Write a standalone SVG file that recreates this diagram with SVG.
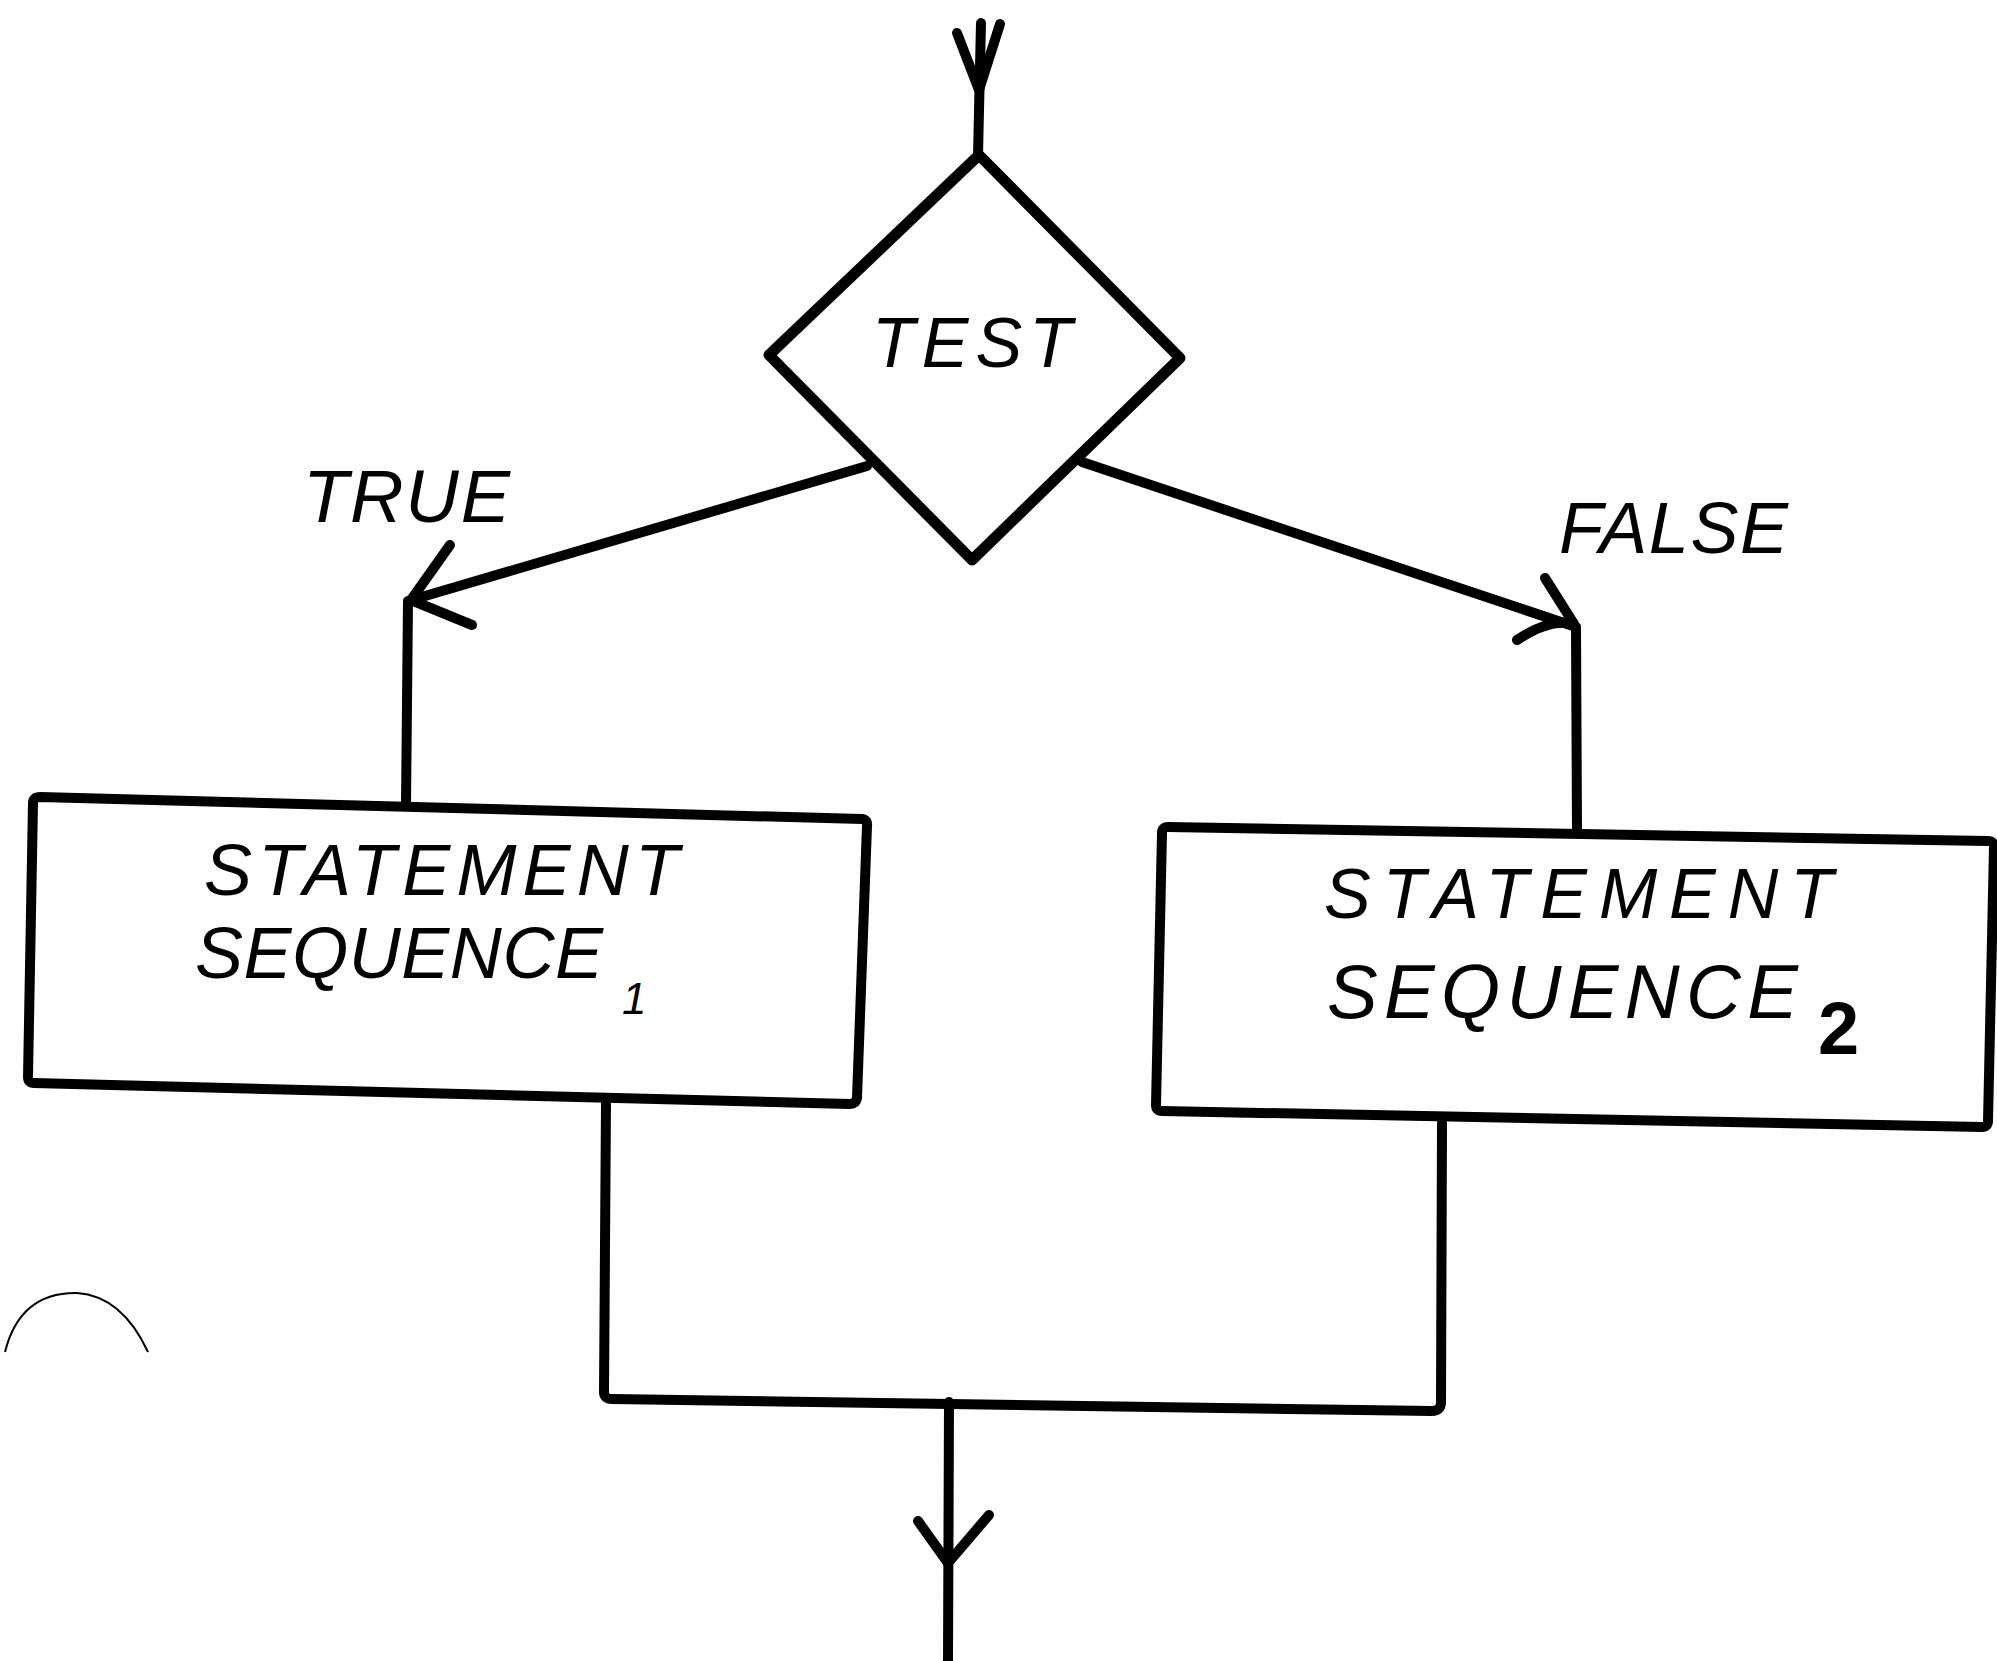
<svg xmlns="http://www.w3.org/2000/svg" width="1997" height="1661" viewBox="0 0 1997 1661">
<style>
.ln{fill:none;stroke:#000;stroke-width:10;stroke-linecap:round;stroke-linejoin:round}
.box{fill:#fff;stroke:#000;stroke-width:10;stroke-linejoin:round}
.dia{fill:#fff;stroke:#000;stroke-width:11;stroke-linejoin:round}
.t{font-family:"Liberation Sans",Arial,sans-serif;font-style:italic;fill:#000}
</style>
<rect width="1997" height="1661" fill="#fff"/>
<g id="connectors">
<path class="ln" d="M981,23 L978,155"/>
<path class="ln" d="M957,33 L979,90 L1000,24"/>
<path class="ln" d="M867,466 L408,601 L406,806"/>
<path class="ln" d="M450,545 L411,600 L472,625"/>
<path class="ln" d="M1082,462 L1576,627 L1577,833"/>
<path class="ln" d="M1545,578 L1574,624 Q1550,618 1517,640"/>
<path class="ln" d="M606,1102 L604,1392 Q604,1399 612,1399 L1432,1411 Q1441,1411 1441,1402 L1442,1123"/>
<path class="ln" d="M949,1402 L948,1661"/>
<path class="ln" d="M918,1521 L948,1563 L989,1515"/>
</g>
<g id="decision">
<path class="dia" d="M979,155 L1180,358 L972,560 L769,355 Z"/>
<text class="t" x="972" y="367" font-size="70" text-anchor="middle" textLength="200" lengthAdjust="spacing">TEST</text>
</g>
<g id="label-true">
<text class="t" x="303" y="522" font-size="74" textLength="207" lengthAdjust="spacing">TRUE</text>
</g>
<g id="label-false">
<text class="t" x="1559" y="553" font-size="72" textLength="229" lengthAdjust="spacing">FALSE</text>
</g>
<g id="seq1">
<path class="box" d="M40,797 L862,819 Q868,820 867,826 L857,1098 Q856,1104 850,1104 L34,1083 Q28,1083 28,1077 L33,803 Q33,797 40,797 Z"/>
<text class="t" x="204" y="895" font-size="72" textLength="475" lengthAdjust="spacing">STATEMENT</text>
<text class="t" x="195" y="978" font-size="72" textLength="408" lengthAdjust="spacing">SEQUENCE</text>
<text class="t" x="622" y="1014" font-size="44">1</text>
</g>
<g id="seq2">
<path class="box" d="M1168,827 L1988,841 Q1994,841 1994,847 L1988,1121 Q1988,1127 1982,1127 L1162,1111 Q1156,1111 1156,1105 L1162,833 Q1162,827 1168,827 Z"/>
<text class="t" x="1324" y="918" font-size="70" textLength="509" lengthAdjust="spacing">STATEMENT</text>
<text class="t" x="1327" y="1018" font-size="76" textLength="471" lengthAdjust="spacing">SEQUENCE</text>
<text x="1818" y="1054" font-size="74" font-family="Liberation Sans, Arial, sans-serif" font-weight="bold">2</text>
</g>
<path d="M5,1352 Q20,1292 77,1293 Q122,1296 148,1352" fill="none" stroke="#000" stroke-width="2"/>
</svg>
